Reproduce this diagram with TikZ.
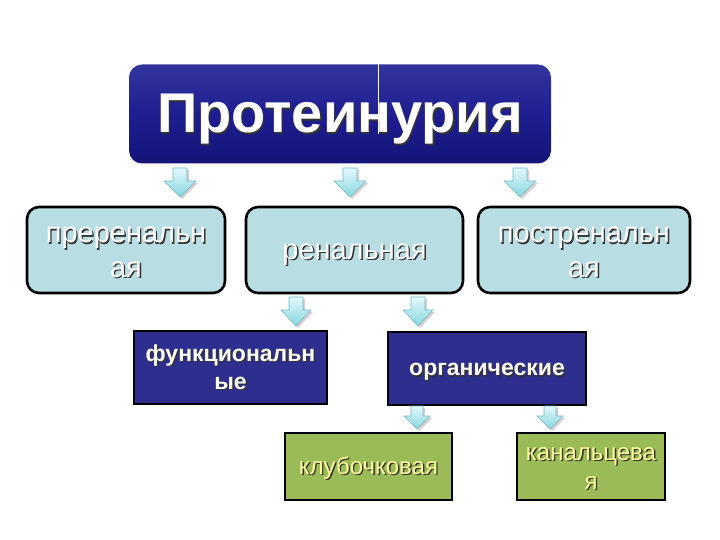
\documentclass[tikz,border=0pt]{standalone}
\usepackage{fontspec}
\setmainfont{Liberation Sans}
\definecolor{topblue}{HTML}{1E1E92}
\definecolor{topblued}{HTML}{141478}
\definecolor{lightbox}{HTML}{B8DDE2}
\definecolor{midblue}{HTML}{2E2E8E}
\definecolor{olive}{HTML}{9BBB59}
\definecolor{paleyellow}{HTML}{FFFF99}
\definecolor{shd}{HTML}{333333}
\definecolor{arrowlight}{HTML}{E4F8FA}
\definecolor{arrowdark}{HTML}{86D6E0}
\definecolor{arrowline}{HTML}{72BAC6}
\definecolor{arrowshadow}{HTML}{D9CDD2}
\newcommand\pstrut{\rule[-0.212em]{0pt}{1.117em}}
\newcommand\sht[1]{\pstrut\rlap{\kern1.4pt\raisebox{-1.4pt}{\textcolor{shd}{#1}}}#1}
\newcommand\blockarr[6]{% cx, top, heady, tip, shaft half, head half
  \fill[arrowshadow] (#1-#5+2,#2+2) -- (#1-#5+2,#3+2) -- (#1-#6+2,#3+2) -- (#1+2,#4+2) -- (#1+#6+2,#3+2) -- (#1+#5+2,#3+2) -- (#1+#5+2,#2+2) -- cycle;
  \draw[arrowline, line width=0.6pt, top color=arrowlight, bottom color=arrowdark]
    (#1-#5,#2) -- (#1-#5,#3) -- (#1-#6,#3) -- (#1,#4) -- (#1+#6,#3) -- (#1+#5,#3) -- (#1+#5,#2) -- cycle;}
\begin{document}
\begin{tikzpicture}[x=1pt,y=-1pt,
  titlebox/.style={rounded corners=13pt, top color=topblue!90!white, bottom color=topblued, middle color=topblue, minimum width=422pt, minimum height=99pt, inner sep=0pt, text=white, font=\fontsize{56}{60}\selectfont\bfseries},
  lightnode/.style={draw=black, line width=2.6pt, rounded corners=12pt, fill=lightbox, minimum height=86pt, inner sep=0pt, text=white, align=center, font=\fontsize{29}{33}\selectfont},
  bluenode/.style={draw=black, line width=2.8pt, fill=midblue, minimum height=73pt, inner sep=0pt, text=white, align=center, font=\fontsize{23}{28}\selectfont\bfseries},
  greennode/.style={draw=black, line width=2.8pt, fill=olive, minimum height=67pt, inner sep=0pt, text=paleyellow, align=center, font=\fontsize{24}{26}\selectfont}
]
\useasboundingbox (0,0) rectangle (720,540);
\fill[white] (0,0) rectangle (720,540);

\node[titlebox] (top) at (340,114) {\sht{Протеинурия}};
\draw[white, line width=0.7pt] (378,63) -- (378,134);

\node[lightnode, minimum width=198pt] (pre) at (126,250) {\sht{преренальн}\\\sht{ая}};
\node[lightnode, minimum width=217pt] (ren) at (354.5,250) {\sht{ренальная}};
\node[lightnode, minimum width=212pt] (post) at (584,250) {\sht{постренальн}\\\sht{ая}};

\node[bluenode, minimum width=193pt] (func) at (230.5,367.5) {\sht{функциональн}\\\sht{ые}};
\node[bluenode, minimum width=198pt] (org) at (487,368.5) {\sht{органические}};

\node[greennode, minimum width=167pt] (glom) at (368.5,466.5) {\sht{клубочковая}};
\node[greennode, minimum width=148pt] (tub) at (591,466.5) {\sht{канальцева}\\\sht{я}};

\blockarr{180}{168}{181}{197}{7}{16}
\blockarr{350}{168}{181}{197}{7}{16}
\blockarr{520}{168}{181}{197}{7}{16}
\blockarr{296}{297}{310}{326}{7}{15}
\blockarr{418}{297}{310}{326}{7}{15}
\blockarr{417}{406}{416}{429}{6}{13}
\blockarr{550}{406}{416}{429}{6}{13}
\end{tikzpicture}
\end{document}
